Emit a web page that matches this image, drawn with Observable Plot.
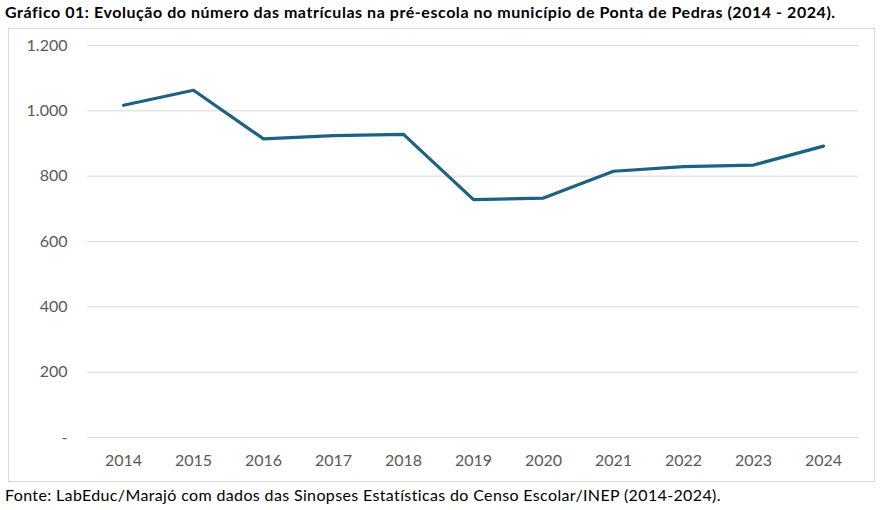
<!DOCTYPE html>
<html>
<head>
<meta charset="utf-8">
<script src="https://cdn.jsdelivr.net/npm/d3@7"></script>
<script src="https://cdn.jsdelivr.net/npm/@observablehq/plot@0.6"></script>
<style>
  body { margin: 0; background: #fff; font-family: Lato, "Open Sans", sans-serif; }
  #title { position: absolute; left: 5px; top: 2px; font-weight: bold; font-size: 16px; letter-spacing: 0.55px; color: #000; white-space: nowrap; }
  #box { position: absolute; left: 8px; top: 28px; width: 865px; height: 452px; border: 1px solid #d9d9d9; }
  #caption { position: absolute; left: 5px; top: 485px; font-size: 16px; letter-spacing: 0.36px; color: #000; white-space: nowrap; }
</style>
</head>
<body>
<div id="title">Gráfico 01: Evolução do número das matrículas na pré-escola no município de Ponta de Pedras (2014 - 2024).</div>
<div id="box"></div>
<div id="caption">Fonte: LabEduc/Marajó com dados das Sinopses Estatísticas do Censo Escolar/INEP (2014-2024).</div>
<script>
const years = ["2014","2015","2016","2017","2018","2019","2020","2021","2022","2023","2024"];
const matriculas = [1017, 1063, 914, 924, 928, 728, 733, 815, 829, 834, 892];
const yTicks = [0, 200, 400, 600, 800, 1000, 1200];

const data = years.map((y, i) => ({year: y, value: matriculas[i]}));
const fmt = v => v === 0 ? "-" : d3.format(",")(v).replace(/,/g, ".");

const chart = Plot.plot({
  width: 865,
  height: 452,
  marginLeft: 78,
  marginRight: 16,
  marginTop: 16,
  marginBottom: 44,
  style: { fontFamily: "Lato, 'Open Sans', sans-serif", fontSize: "16px", color: "#595959", background: "transparent" },
  x: { type: "point", domain: years, padding: 0.5, label: null },
  y: { domain: [0, 1200], ticks: yTicks, label: null },
  marks: [
    Plot.gridY(yTicks, { stroke: "#d9d9d9", strokeOpacity: 1, strokeWidth: 1 }),
    Plot.axisY(yTicks, { tickSize: 0, tickPadding: 20, tickFormat: fmt, fontSize: 16, fill: "#595959" }),
    Plot.axisX({ tickSize: 0, tickPadding: 17, fontSize: 16, fill: "#595959" }),
    Plot.line(data, { x: "year", y: "value", stroke: "#1d6184", strokeWidth: 3.2, strokeLinejoin: "round", strokeLinecap: "round" })
  ]
});
document.getElementById("box").appendChild(chart);
</script>
</body>
</html>
